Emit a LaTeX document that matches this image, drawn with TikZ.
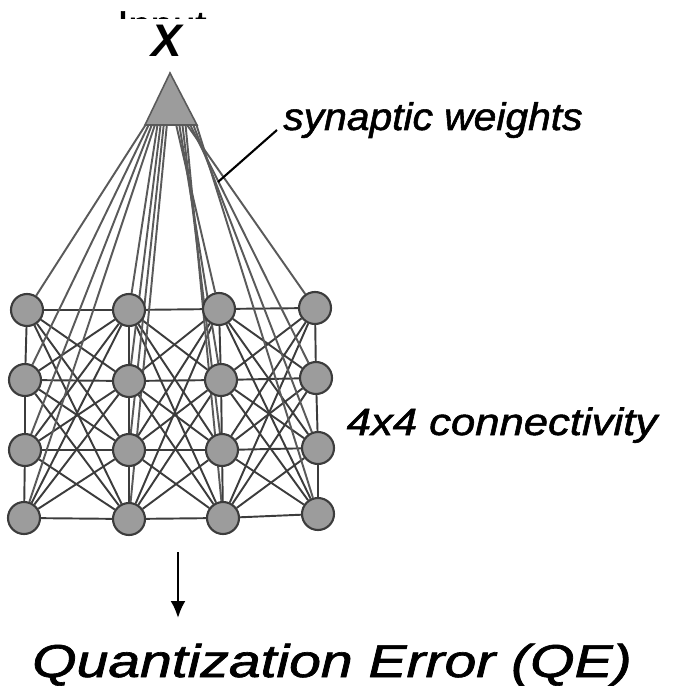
\documentclass[tikz,border=0pt]{standalone}
\usepackage{fontspec}
\setsansfont{Liberation Sans}
\newfontfamily\lblfont{Liberation Sans}[FakeBold=1.4, ItalicFeatures={FakeBold=1.4}]
\usepackage{tikz}
\usetikzlibrary{positioning, calc, backgrounds, arrows.meta}
\definecolor{nodegray}{HTML}{9C9C9C}
\definecolor{edgegray}{HTML}{3C3C3C}
\definecolor{fangray}{HTML}{5A5A5A}
\tikzset{
	somnode/.style={
			shape=circle,
			draw=edgegray,
			line width=1.2pt,
			fill=nodegray,
			minimum size=0.64cm,
			inner sep=0pt
		},
	link/.style={
			draw=edgegray,
			line width=1.1pt
		},
	fan/.style={
			draw=fangray,
			line width=1.1pt
		},
	labeltext/.style={
			font=\lblfont\itshape,
			text=black,
			inner sep=0pt
		}
}

\begin{document}
\begin{tikzpicture}[x=0.02cm, y=-0.02cm]
  \useasboundingbox (0,0) rectangle (673,686);

  % input, partly hidden at the top
  \begin{scope}
    \clip (0,0) rectangle (673,19);
    \node[labeltext, font=\lblfont\fontsize{22.8pt}{26pt}\selectfont, anchor=base west] (inp) at (117,39) {Input};
  \end{scope}
  \node[labeltext, font=\sffamily\bfseries\itshape\fontsize{26pt}{28pt}\selectfont, anchor=base] (xin) at (167,57) {X};

  % input triangle
  \coordinate (apex) at (170,73);
  \coordinate (bl) at (145,125);
  \coordinate (br) at (197,125);
  \draw[draw=fangray, fill=nodegray, line width=0.9pt] (apex) -- (br) -- (bl) -- cycle;

  % 4x4 map
  \node[somnode] (n11) at (27,310) {};
  \node[somnode] (n12) at (129,310) {};
  \node[somnode] (n13) at (219,309) {};
  \node[somnode] (n14) at (315,308) {};
  \node[somnode] (n21) at (25,380) {};
  \node[somnode] (n22) at (129,381) {};
  \node[somnode] (n23) at (221,380) {};
  \node[somnode] (n24) at (316,378) {};
  \node[somnode] (n31) at (25,450) {};
  \node[somnode] (n32) at (129,450) {};
  \node[somnode] (n33) at (222,450) {};
  \node[somnode] (n34) at (318,448) {};
  \node[somnode] (n41) at (24,518) {};
  \node[somnode] (n42) at (129,519) {};
  \node[somnode] (n43) at (223,518) {};
  \node[somnode] (n44) at (318,514) {};

  \begin{scope}[on background layer]
    % map connections
    \foreach \c/\d in {1/2,2/3,3/4}
      \foreach \r in {1,...,4}
        \foreach \s in {1,...,4}
          \draw[link] (n\r\c) -- (n\s\d);
    \foreach \c in {1,...,4}
      \foreach \r/\s in {1/2,2/3,3/4}
        \draw[link] (n\r\c) -- (n\s\c);
    % synaptic weights
    \foreach \c/\t in {1/0.01,2/0.24,3/0.60,4/0.81}
      \foreach \r in {1,...,4}
        \draw[fan] ($(bl)!{\t+(\r-1)*0.06}!(br)$) -- (n\r\c);
  \end{scope}

  % labels
  \node[labeltext, font=\lblfont\itshape\fontsize{21.9pt}{26pt}\selectfont, xscale=1.06, anchor=base west] (syn) at (283,130) {synaptic weights};
  \coordinate (synpt) at (218,182);
  \draw[black, line width=1.2pt] ([xshift=-0.12cm]syn.base west) -- (synpt);

  \node[labeltext, font=\lblfont\itshape\fontsize{21.6pt}{26pt}\selectfont, xscale=1.15, anchor=base] (conn) at (502,435) {4x4 connectivity};

  \node[labeltext, font=\lblfont\itshape\fontsize{26.2pt}{30pt}\selectfont, xscale=1.24, anchor=base] (qe) at (332,677) {Quantization Error (QE)};
  \coordinate (mapout) at (178,552);
  \coordinate (qein) at (178,618);
  \draw[black, line width=1.4pt, -{Latex[length=0.34cm, width=0.3cm]}] (mapout) -- (qein);

\end{tikzpicture}
\end{document}
